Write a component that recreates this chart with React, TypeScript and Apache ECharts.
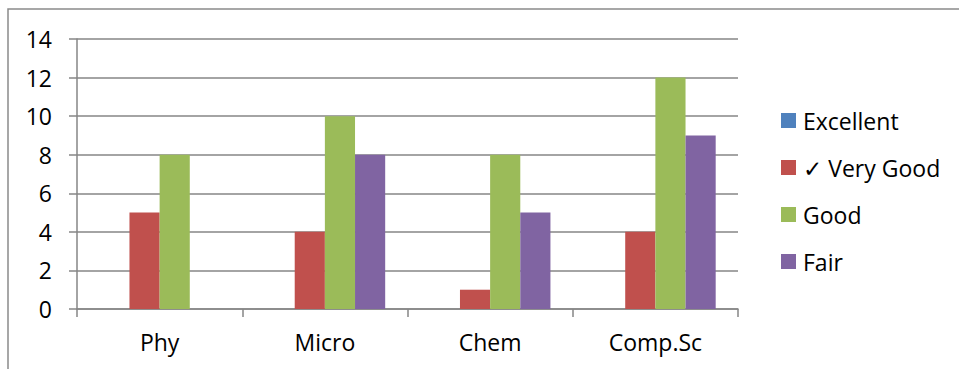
import React, { useEffect, useRef } from "react";
import * as echarts from "echarts";

const categories = ["Phy", "Micro", "Chem", "Comp.Sc"];
const seriesNames = ["Excellent", "✓ Very Good", "Good", "Fair"];
const excellent = [0, 0, 0, 0];
const veryGood = [5, 4, 1, 4];
const good = [8, 10, 8, 12];
const fair = [0, 8, 5, 9];
const colors = ["#4F81BD", "#C0504D", "#9BBB59", "#8064A2"];

const FONT = "'Open Sans', 'DejaVu Sans', sans-serif";

export default function App() {
  const ref = useRef<HTMLDivElement>(null);
  useEffect(() => {
    if (!ref.current) return;
    const chart = echarts.init(ref.current, null, { renderer: "svg" });
    const data = [excellent, veryGood, good, fair];
    chart.setOption({
      animation: false,
      backgroundColor: "#ffffff",
      textStyle: { fontFamily: FONT },
      graphic: [
        {
          type: "rect",
          shape: { x: 8, y: 9, width: 1000, height: 400 },
          style: { fill: "none", stroke: "#8a8a8a", lineWidth: 1.5 },
          silent: true,
        },
      ],
      grid: { left: 77, right: 221, top: 39, bottom: 60, containLabel: false },
      legend: {
        orient: "vertical",
        left: 776,
        top: 104,
        itemWidth: 15,
        itemHeight: 15,
        itemGap: 24,
        icon: "rect",
        textStyle: { fontSize: 23, color: "#000", fontFamily: FONT, lineHeight: 23, padding: [0, 0, 0, 2] },
        data: seriesNames,
      },
      xAxis: {
        type: "category",
        data: categories,
        axisLine: { lineStyle: { color: "#868686", width: 1.5 } },
        axisTick: { show: true, length: 8, inside: false, lineStyle: { color: "#868686", width: 1.5 } },
        axisLabel: { fontSize: 23, color: "#000", margin: 21, fontFamily: FONT },
        splitLine: { show: false },
      },
      yAxis: {
        type: "value",
        min: 0,
        max: 14,
        interval: 2,
        axisLine: { show: true, lineStyle: { color: "#868686", width: 1.5 } },
        axisTick: { show: true, length: 8, lineStyle: { color: "#868686", width: 1.5 } },
        axisLabel: { fontSize: 23, color: "#000", margin: 25, fontFamily: FONT },
        splitLine: { show: true, lineStyle: { color: "#868686", width: 1.5 } },
      },
      series: seriesNames.map((name, i) => ({
        name,
        type: "bar",
        data: data[i],
        barGap: "0%",
        barCategoryGap: "27%",
        itemStyle: { color: colors[i] },
      })),
    });
    return () => chart.dispose();
  }, []);
  return (
    <div
      ref={ref}
      style={{ position: "fixed", left: 0, top: 0, width: 959, height: 369 }}
    />
  );
}
